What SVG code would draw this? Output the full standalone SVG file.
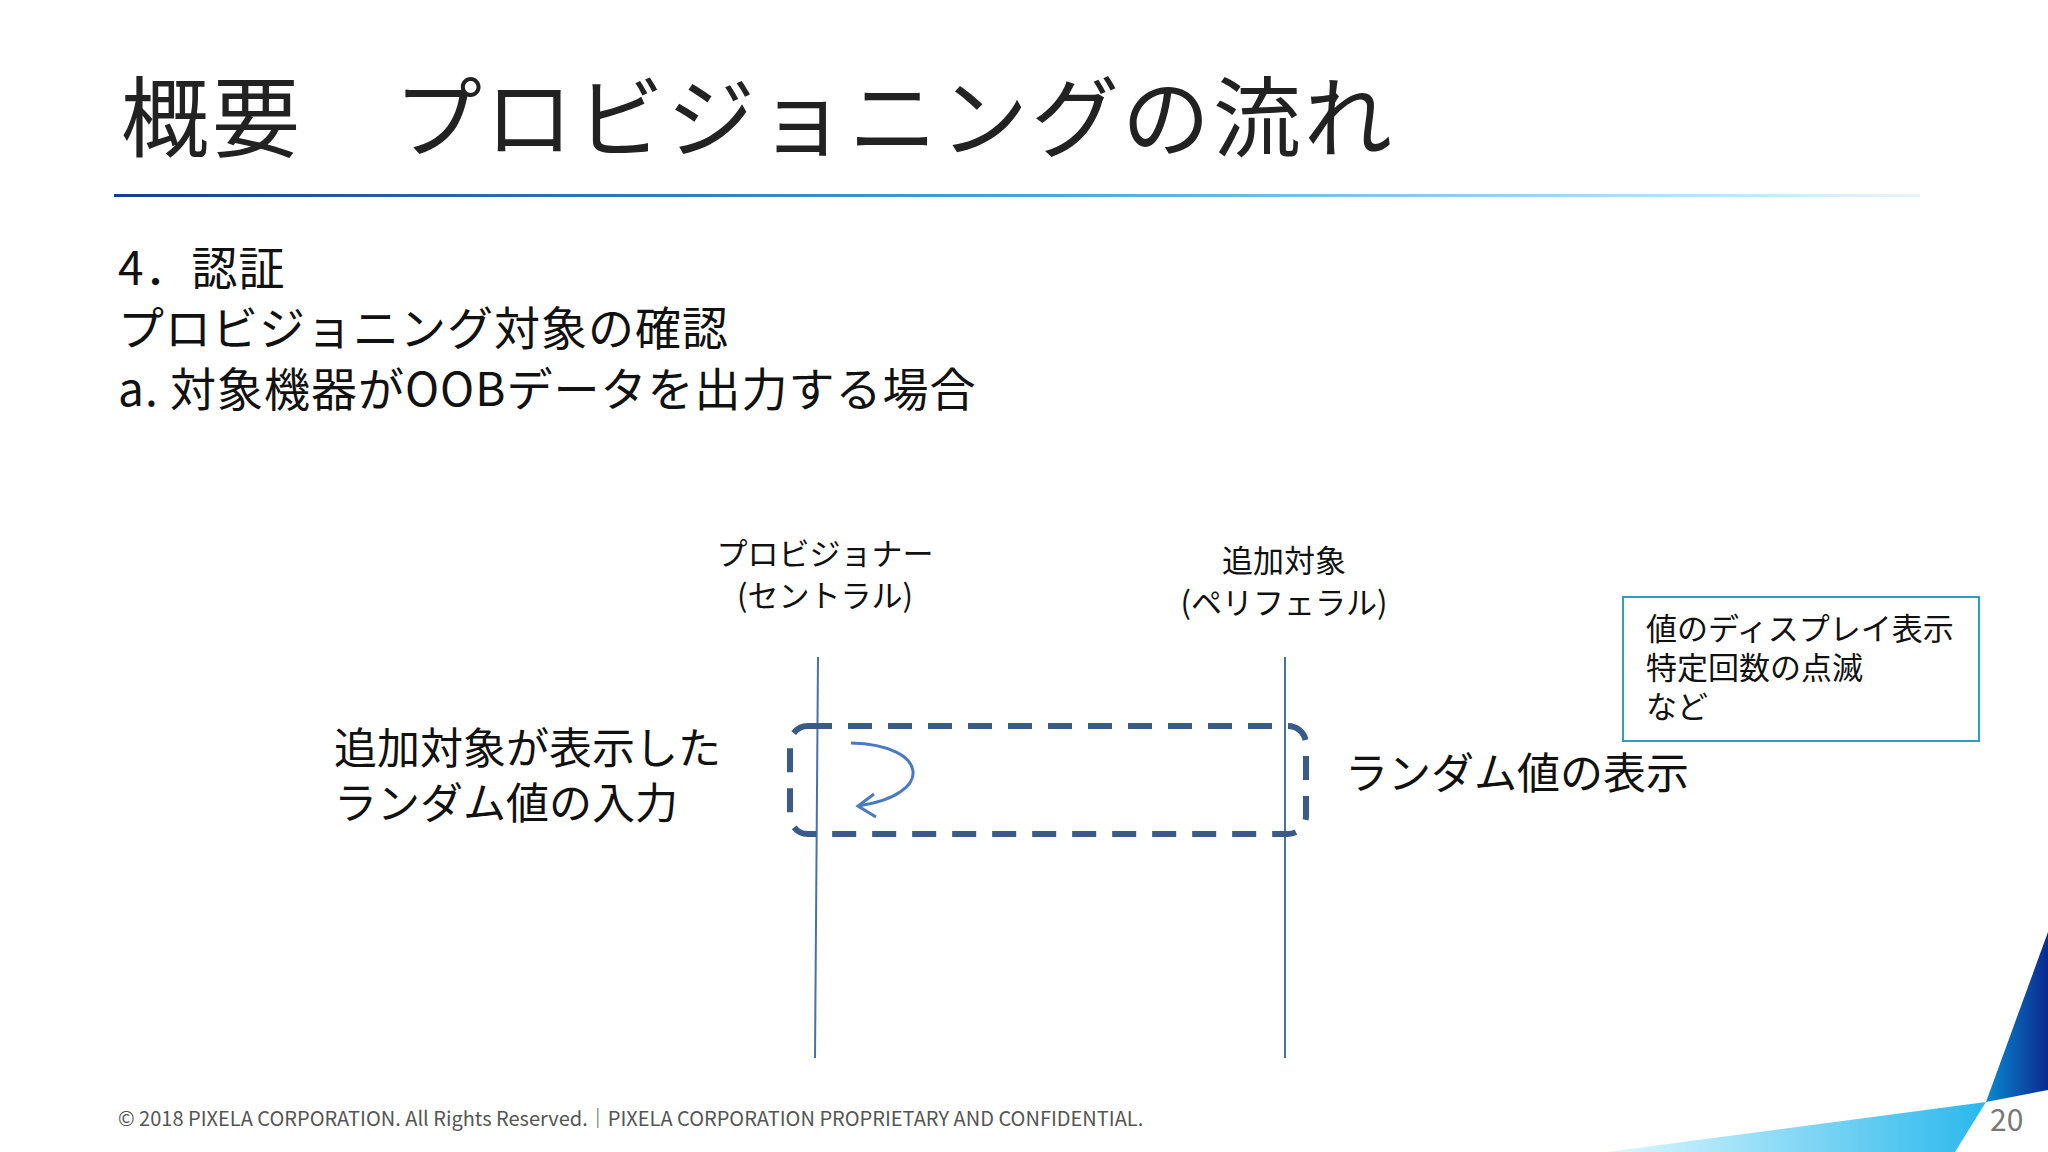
<svg xmlns="http://www.w3.org/2000/svg" width="2048" height="1152" viewBox="0 0 2048 1152">
<defs>
<linearGradient id="hr" x1="0" x2="1" y1="0" y2="0"><stop offset="0" stop-color="#1a3a9a"/><stop offset="0.5" stop-color="#3aa8e0"/><stop offset="1" stop-color="#e8f6fc"/></linearGradient>
<linearGradient id="dk" x1="0" x2="1" y1="0" y2="0"><stop offset="0" stop-color="#0a8ad0"/><stop offset="1" stop-color="#0a2a90"/></linearGradient>
<linearGradient id="lt" x1="0" x2="1" y1="0" y2="0"><stop offset="0" stop-color="#e0f8ff"/><stop offset="1" stop-color="#2ab8ec"/></linearGradient>
<style>
text{font-family:"Noto Sans CJK JP","Noto Sans",sans-serif;fill:#111}
.lbl{font-size:31px}
.big{font-size:43px}
.sub{font-size:46px;letter-spacing:1px}
.life{stroke:#4a70a8;stroke-width:2}
</style>
</defs>
<rect width="2048" height="1152" fill="#fff"/>
<text x="121" y="150" style="font-size:88px;fill:#222;letter-spacing:3px">概要　プロビジョニングの流れ</text>
<rect x="114" y="194" width="1806" height="3" fill="url(#hr)"/>
<text class="sub" x="118" y="285">4．認証</text>
<text class="sub" x="118" y="345">プロビジョニング対象の確認</text>
<text class="sub" x="118" y="406">a. 対象機器がOOBデータを出力する場合</text>
<g id="central"><text class="lbl" x="825" y="565" text-anchor="middle">プロビジョナー</text><text class="lbl" x="825" y="607" text-anchor="middle">(セントラル)</text></g>
<g id="peripheral"><text class="lbl" x="1284" y="572" text-anchor="middle">追加対象</text><text class="lbl" x="1284" y="614" text-anchor="middle">(ペリフェラル)</text></g>
<g id="connectors">
<line class="life" x1="818" y1="657" x2="815" y2="1058"/>
<line class="life" x1="1285" y1="657" x2="1285" y2="1058"/>
<path d="M851,743 C930,745 935,795 858,806" fill="none" stroke="#4a7ac0" stroke-width="3"/>
<path d="M874,794 L858,806 L876,817" fill="none" stroke="#4a7ac0" stroke-width="3"/>
</g>
<g id="group"><rect x="790" y="726" width="516" height="108" rx="18" fill="none" stroke="#3a5a8a" stroke-width="6" stroke-dasharray="24 16"/></g>
<g id="left-note"><text class="big" x="334" y="764">追加対象が表示した</text><text class="big" x="334" y="819">ランダム値の入力</text></g>
<g id="right-note"><text class="big" x="1345" y="789">ランダム値の表示</text></g>
<g id="box"><rect x="1623" y="597" width="356" height="144" fill="#fff" stroke="#2aa0c0" stroke-width="2"/>
<text class="lbl" x="1646" y="640">値のディスプレイ表示</text><text class="lbl" x="1646" y="679">特定回数の点滅</text><text class="lbl" x="1646" y="718">など</text></g>
<polygon points="2048,932 1986,1102 2048,1090" fill="url(#dk)"/>
<polygon points="1607,1152 1986,1102 1955,1152" fill="url(#lt)"/>
<text x="118" y="1126" style="font-size:20px;fill:#555">© 2018 PIXELA CORPORATION. All Rights Reserved.｜PIXELA CORPORATION PROPRIETARY AND CONFIDENTIAL.</text>
<text x="1990" y="1131" style="font-size:30px;fill:#777">20</text>
</svg>
